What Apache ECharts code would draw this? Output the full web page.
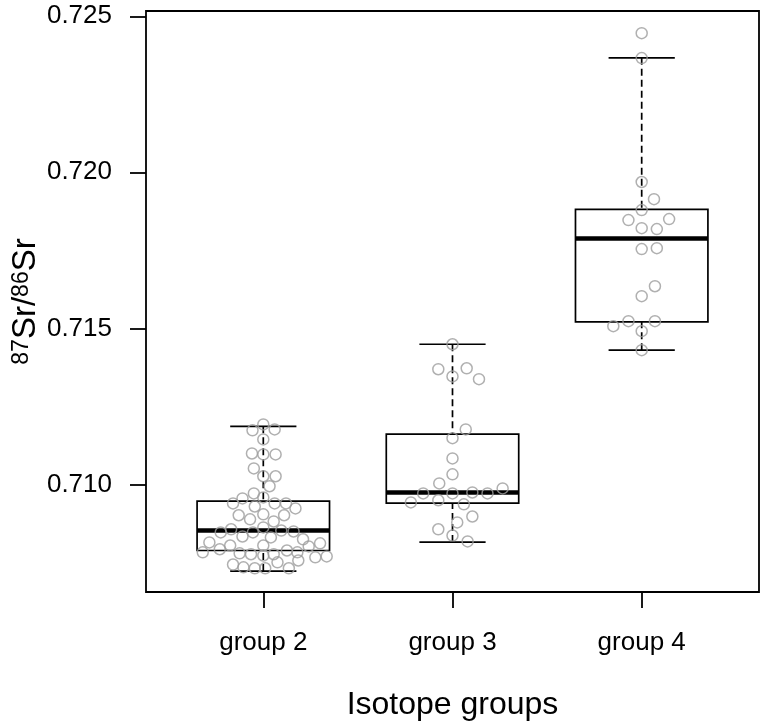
<!DOCTYPE html>
<html>

<head>
	<meta charset="utf-8">
	<title>87Sr/86Sr by isotope group</title>
	<script src="https://cdn.jsdelivr.net/npm/echarts@6/dist/echarts.min.js"></script>
</head>

<body style="margin:0;background:#fff">
	<div id="main" style="width: 765px;height:727px;"></div>
	<script type="text/javascript">
	var myChart = echarts.init(document.getElementById('main'));

	var groups = ['group 2', 'group 3', 'group 4'];
	var groupPos = [1, 2, 3];
	var yTicks = [0.710, 0.715, 0.720, 0.725];

	// box stats: lower whisker, Q1, median, Q3, upper whisker
	var box2 = [0.70722, 0.70788, 0.70852, 0.70946, 0.71186];
	var box3 = [0.70815, 0.70940, 0.70974, 0.71161, 0.71449];
	var box4 = [0.71430, 0.71521, 0.71788, 0.71881, 0.72367];

	// measured ratios per group, and the swarm offset of each point (x units)
	var sr2 = [0.71192, 0.71173, 0.71176, 0.71144, 0.71099, 0.71096, 0.71096, 0.71051, 0.71026, 0.71026,
		0.70994, 0.70971, 0.70955, 0.70958, 0.70939, 0.70939, 0.70939, 0.70929, 0.70923, 0.70901,
		0.70888, 0.70904, 0.70881, 0.70901, 0.70846, 0.70856, 0.70833, 0.70846, 0.70862, 0.70830,
		0.70852, 0.70849, 0.70824, 0.70814, 0.70792, 0.70804, 0.70804, 0.70801, 0.70811, 0.70782,
		0.70779, 0.70776, 0.70772, 0.70776, 0.70788, 0.70782, 0.70766, 0.70769, 0.70743, 0.70734,
		0.70731, 0.70731, 0.70750, 0.70731, 0.70756];
	var off2 = [0, -0.057, 0.06, 0, -0.06, 0, 0.065, -0.05, 0, 0.065,
		0.033, -0.05, -0.11, 0, -0.16, 0.06, 0.12, -0.045, 0.17, -0.13,
		-0.07, 0, 0.055, 0.11, -0.225, -0.17, -0.11, -0.055, 0, 0.04,
		0.095, 0.16, 0.21, -0.285, -0.23, -0.175, 0, 0.24, 0.30, -0.32,
		-0.125, -0.065, 0, 0.055, 0.125, 0.18, 0.275, 0.335, -0.16, -0.105,
		-0.045, 0.01, 0.075, 0.135, 0.185];

	var sr3 = [0.71449, 0.71369, 0.71346, 0.71372, 0.71337, 0.71176, 0.71148, 0.71083, 0.71032, 0.71003,
		0.70971, 0.70971, 0.70974, 0.70971, 0.70987, 0.70942, 0.70949, 0.70936, 0.70897, 0.70878,
		0.70856, 0.70836, 0.70817];
	var off3 = [0, -0.075, 0, 0.075, 0.14, 0.07, 0, 0, 0, -0.07,
		-0.155, 0, 0.105, 0.185, 0.265, -0.22, -0.075, 0.06, 0.105, 0.025,
		-0.075, 0, 0.08];

	var sr4 = [0.72446, 0.72366, 0.71969, 0.71914, 0.71879, 0.71847, 0.71821, 0.71818, 0.71850, 0.71754,
		0.71757, 0.71635, 0.71603, 0.71507, 0.71523, 0.71491, 0.71523, 0.71430];
	var off4 = [0, 0, 0, 0.065, 0, -0.07, 0, 0.08, 0.145, 0,
		0.08, 0.07, 0, -0.15, -0.07, 0, 0.07, 0];

	var boxData = [box2, box3, box4].map(function(b, i) {
		return [groupPos[i]].concat(b);
	});

	var pointData = [];
	[[sr2, off2], [sr3, off3], [sr4, off4]].forEach(function(g, i) {
		g[0].forEach(function(v, k) {
			pointData.push([groupPos[i] + g[1][k], v]);
		});
	});

	var boxHalf = 0.35;
	var capHalf = 0.175;

	function renderBox(params, api) {
		var x = api.value(0);
		var lo = api.coord([x, api.value(1)]);
		var q1 = api.coord([x, api.value(2)]);
		var md = api.coord([x, api.value(3)]);
		var q3 = api.coord([x, api.value(4)]);
		var hi = api.coord([x, api.value(5)]);
		var left = api.coord([x - boxHalf, api.value(3)])[0];
		var right = api.coord([x + boxHalf, api.value(3)])[0];
		var capL = api.coord([x - capHalf, api.value(3)])[0];
		var capR = api.coord([x + capHalf, api.value(3)])[0];
		var solid = { stroke: '#000', lineWidth: 1.7, fill: null };
		var dashed = { stroke: '#000', lineWidth: 1.7, lineDash: [7, 4] };
		return {
			type: 'group',
			children: [
				{ type: 'line', shape: { x1: hi[0], y1: hi[1], x2: q3[0], y2: q3[1] }, style: dashed },
				{ type: 'line', shape: { x1: lo[0], y1: lo[1], x2: q1[0], y2: q1[1] }, style: dashed },
				{ type: 'line', shape: { x1: capL, y1: hi[1], x2: capR, y2: hi[1] }, style: solid },
				{ type: 'line', shape: { x1: capL, y1: lo[1], x2: capR, y2: lo[1] }, style: solid },
				{ type: 'rect', shape: { x: left, y: q3[1], width: right - left, height: q1[1] - q3[1] }, style: solid },
				{ type: 'line', shape: { x1: left, y1: md[1], x2: right, y2: md[1] }, style: { stroke: '#000', lineWidth: 4.5 } }
			]
		};
	}

	var font = 'Liberation Sans, Arial, sans-serif';

	option = {
		animation: false,
		backgroundColor: '#fff',
		grid: {
			left: 146,
			top: 11,
			right: 6,
			bottom: 135,
			outerBoundsMode: 'none',
			containLabel: false,
			show: true,
			borderColor: '#000',
			borderWidth: 1.8
		},
		xAxis: {
			type: 'value',
			min: 0.38,
			max: 3.62,
			splitLine: { show: false },
			axisLine: { show: false },
			axisTick: {
				show: true,
				length: 16,
				customValues: groupPos,
				lineStyle: { color: '#000', width: 1.8 }
			},
			axisLabel: {
				customValues: groupPos,
				margin: 38,
				fontSize: 26,
				fontFamily: font,
				color: '#000',
				formatter: function(v) {
					return groups[Math.round(v) - 1];
				}
			},
			name: 'Isotope groups',
			nameLocation: 'middle',
			nameGap: 97,
			nameMoveOverlap: false,
			nameTextStyle: { fontSize: 32, fontFamily: font, color: '#000' }
		},
		yAxis: {
			type: 'value',
			min: 0.70655,
			max: 0.72517,
			splitLine: { show: false },
			axisLine: { show: false },
			axisTick: {
				show: true,
				length: 16,
				customValues: yTicks,
				lineStyle: { color: '#000', width: 1.8 }
			},
			axisLabel: {
				customValues: yTicks,
				margin: 34,
				fontSize: 26,
				fontFamily: font,
				color: '#000',
				formatter: function(v) {
					return v.toFixed(3);
				}
			},
			name: '{sup|87}{main|Sr/}{sup|86}{main|Sr}',
			nameLocation: 'middle',
			nameRotate: 90,
			nameGap: 104,
			nameMoveOverlap: false,
			nameTextStyle: {
				fontFamily: font,
				color: '#000',
				rich: {
					main: { fontSize: 33, lineHeight: 32, fontFamily: font, color: '#000', verticalAlign: 'bottom' },
					sup: { fontSize: 23, lineHeight: 22, fontFamily: font, color: '#000', verticalAlign: 'top', padding: [0, 0, 18, 0] }
				}
			}
		},
		series: [{
			name: 'box',
			type: 'custom',
			renderItem: renderBox,
			encode: { x: 0, y: [1, 2, 3, 4, 5] },
			data: boxData,
			silent: true,
			z: 2
		}, {
			name: 'points',
			type: 'scatter',
			symbol: 'circle',
			symbolSize: 11,
			itemStyle: {
				color: 'rgba(0,0,0,0)',
				borderColor: '#9c9c9c',
				borderWidth: 1.5
			},
			data: pointData,
			silent: true,
			z: 3
		}]
	};

	myChart.setOption(option);
	</script>
</body>

</html>
